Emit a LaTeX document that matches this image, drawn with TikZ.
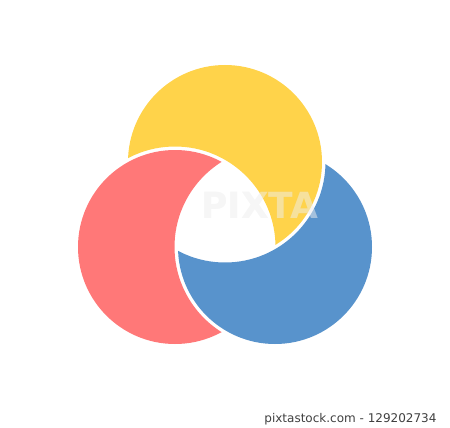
\documentclass[tikz,border=0pt]{standalone}
\usepackage{fontspec}
\setmainfont{DejaVu Sans}
\definecolor{cyellow}{RGB}{255,211,74}
\definecolor{cred}{RGB}{255,120,120}
\definecolor{cblue}{RGB}{88,147,204}
\begin{document}
\begin{tikzpicture}[x=1pt,y=-1pt,
  wmark/.style={font=\bfseries\fontsize{36}{36}\selectfont}]
\useasboundingbox (0,0) rectangle (450,428);
\fill[white] (0,0) rectangle (450,428);
\def\R{97}
\def\G{100.5}
\coordinate (Y) at (225,162);
\coordinate (Rc) at (175,247);
\coordinate (B) at (275,247);
% yellow = yellow minus red
\begin{scope}[even odd rule]
\clip (0,0) rectangle (450,428) (Rc) circle (\G);
\fill[cyellow] (Y) circle (\R);
\end{scope}
% red = red minus blue
\begin{scope}[even odd rule]
\clip (0,0) rectangle (450,428) (B) circle (\G);
\fill[cred] (Rc) circle (\R);
\end{scope}
% blue = blue minus yellow
\begin{scope}[even odd rule]
\clip (0,0) rectangle (450,428) (Y) circle (\G);
\fill[cblue] (B) circle (\R);
\end{scope}
\node[wmark, text=black!30, opacity=0.18] (wm2) at (260,205) {PIXTA};
\node[wmark, text=white, opacity=0.4] (wm) at (260,205) {PIXTA};
\node[text=black!75, font=\fontsize{12}{14}\selectfont, anchor=east] (cap) at (440,419) {pixtastock.com - 129202734};
\end{tikzpicture}
\end{document}
